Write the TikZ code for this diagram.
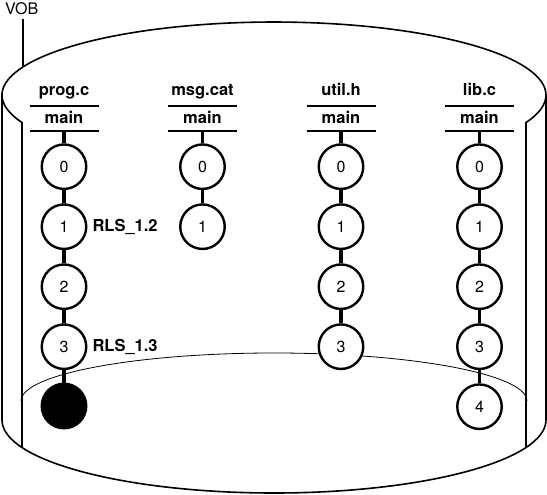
\documentclass[tikz,border=0pt]{standalone}
\usepackage{fontspec}
\setmainfont{TeX Gyre Heros}
\tikzset{
  ver/.style={circle, draw, line width=2.4pt, fill=white, minimum size=44.5pt, inner sep=0pt, font=\fontsize{16}{18}\selectfont},
  cur/.style={ver, fill=black},
  hdr/.style={anchor=base, font=\fontsize{16.5}{18}\selectfont\bfseries},
  rls/.style={anchor=base west, font=\fontsize{16.5}{18}\selectfont\bfseries},
  bar/.style={line width=2.6pt},
  conn/.style={line width=3.6pt},
  cyl/.style={line width=1.6pt},
}

\begin{document}
\begin{tikzpicture}[x=1pt,y=-1pt]
\useasboundingbox (0,0) rectangle (547,495);
% VOB cylinder
\draw[cyl] (22,447.5) -- (22,122.5) arc[start angle=157.9, end angle=382.1, x radius=272, y radius=73] -- (526,447.5);
\draw[cyl] (2,95) -- (2,420) arc[start angle=180, end angle=0, x radius=272, y radius=73] -- (546,95);
\draw[line width=0.8pt] (21,401) arc[start angle=180, end angle=360, x radius=253, y radius=48];
\node[anchor=base west, font=\fontsize{16}{18}\selectfont] (vob) at (1.5,15) {VOB};
\coordinate (vob-tip) at (23,66);
\draw[cyl] (vob-tip |- vob.south) -- (vob-tip);
% prog.c
\node[hdr] (pc) at (64,95.5) {prog.c};
\draw[bar] (29.5,106) -- ++(69,0);
\node[hdr] (pc-main) at (64,124) {main};
\draw[bar] (29.5,131) -- ++(69,0);
\coordinate (pc-root) at (64,131);
\node[ver] (pc0) at (64,166.7) {0};
\node[ver] (pc1) at (64,226.7) {1};
\node[ver] (pc2) at (64,286.7) {2};
\node[ver] (pc3) at (64,346.7) {3};
\node[cur] (pc4) at (64,406) {};
\draw[conn] (pc-root) -- (pc0) (pc0) -- (pc1) (pc1) -- (pc2) (pc2) -- (pc3) (pc3) -- (pc4);
\node[rls] (rls12) at (89,231.5) {RLS\_1.2};
\node[rls] (rls13) at (89,351.5) {RLS\_1.3};
% msg.cat
\node[hdr] (mc) at (202.5,95.5) {msg.cat};
\draw[bar] (168,106) -- ++(69,0);
\node[hdr] (mc-main) at (202.5,124) {main};
\draw[bar] (168,131) -- ++(69,0);
\coordinate (mc-root) at (202.5,131);
\node[ver] (mc0) at (202.5,166.7) {0};
\node[ver] (mc1) at (202.5,226.7) {1};
\draw[conn] (mc-root) -- (mc0) (mc0) -- (mc1);
% util.h
\node[hdr] (uh) at (341,95.5) {util.h};
\draw[bar] (306.5,106) -- ++(69,0);
\node[hdr] (uh-main) at (341,124) {main};
\draw[bar] (306.5,131) -- ++(69,0);
\coordinate (uh-root) at (341,131);
\node[ver] (uh0) at (341,166.7) {0};
\node[ver] (uh1) at (341,226.7) {1};
\node[ver] (uh2) at (341,286.7) {2};
\node[ver] (uh3) at (341,346.7) {3};
\draw[conn] (uh-root) -- (uh0) (uh0) -- (uh1) (uh1) -- (uh2) (uh2) -- (uh3);
% lib.c
\node[hdr] (lc) at (479.5,95.5) {lib.c};
\draw[bar] (445,106) -- ++(69,0);
\node[hdr] (lc-main) at (479.5,124) {main};
\draw[bar] (445,131) -- ++(69,0);
\coordinate (lc-root) at (479.5,131);
\node[ver] (lc0) at (479.5,166.7) {0};
\node[ver] (lc1) at (479.5,226.7) {1};
\node[ver] (lc2) at (479.5,286.7) {2};
\node[ver] (lc3) at (479.5,346.7) {3};
\node[ver] (lc4) at (479.5,406.7) {4};
\draw[conn] (lc-root) -- (lc0) (lc0) -- (lc1) (lc1) -- (lc2) (lc2) -- (lc3) (lc3) -- (lc4);
\end{tikzpicture}
\end{document}
